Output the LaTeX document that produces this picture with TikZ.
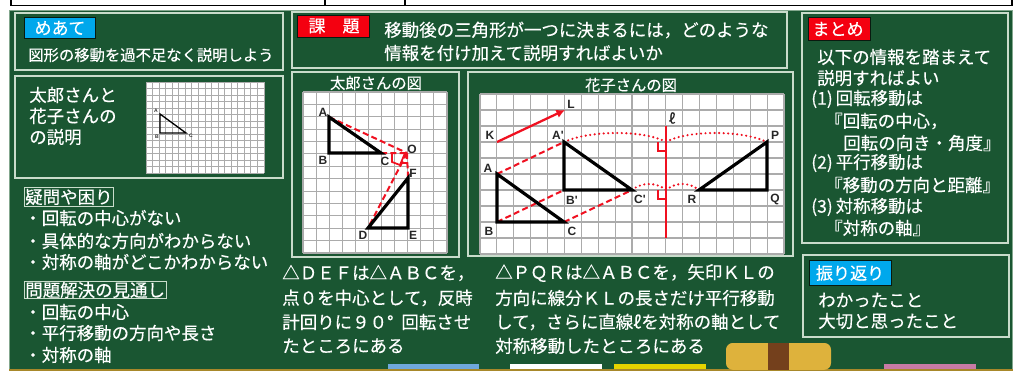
\documentclass[tikz,border=0pt]{standalone}
\usepackage{fontspec}
\usetikzlibrary{arrows.meta}
\setmainfont{Noto Sans CJK JP}[FakeBold=0.35]
\newfontfamily\latinf{Liberation Sans}
\definecolor{board}{HTML}{1A5632}
\definecolor{frameline}{HTML}{C9DCCB}
\definecolor{gridline}{HTML}{ABABAB}
\definecolor{redmark}{HTML}{F01020}
\definecolor{labelblue}{HTML}{00A8EC}
\definecolor{labelred}{HTML}{F40010}
\definecolor{tanline}{HTML}{A8882A}
\definecolor{chalkblue}{HTML}{6FA8DC}
\definecolor{chalkyellow}{HTML}{E6D300}
\definecolor{chalkpink}{HTML}{C77BA5}
\definecolor{eraser}{HTML}{DEB23C}
\definecolor{eraserband}{HTML}{74401C}
\tikzset{
  x=0.75pt,y=-0.75pt,
  panel/.style={draw=frameline,line width=0.9pt},
  tag/.style={line width=0.6pt,draw=black!70!board},
  txt/.style={anchor=west,text=white,inner sep=0pt,font=\fontsize{13.1}{13}\selectfont},
  txts/.style={txt,font=\fontsize{11.5}{12}\selectfont},
  ctr/.style={anchor=center,text=white,inner sep=0pt,font=\fontsize{12.8}{13}\selectfont},
  ttl/.style={anchor=center,text=white,inner sep=0pt,font=\fontsize{11.5}{12}\selectfont},
  tri/.style={draw=black,line width=2.4pt,line join=miter},
  trismall/.style={draw=black,line width=1pt},
  rdash/.style={draw=redmark,line width=1.5pt,dash pattern=on 4.5pt off 2.5pt},
  rdot/.style={draw=redmark,line width=1.8pt,line cap=round,dash pattern=on 0pt off 3.4pt},
  rsolid/.style={draw=redmark,line width=1.3pt},
  pt/.style={anchor=center,inner sep=0pt,text=black!85,font=\latinf\fontsize{9}{9}\selectfont\bfseries},
  ptsmall/.style={anchor=center,inner sep=0pt,text=black!80,font=\latinf\fontsize{3.8}{4}\selectfont\bfseries},
}
\begin{document}
\begin{tikzpicture}
\useasboundingbox (0,0) rectangle (1020,371);
\fill[white] (0,0) rectangle (1020,371);
% header table lines
\draw[black,line width=1.4pt] (11,0) -- (11,5.5) -- (1012,5.5) -- (1012,0);
\draw[black,line width=0.9pt] (325,0) -- (325,5.5) (405,0) -- (405,5.5);
% board
\fill[board] (9,10) rectangle (1013,371);
\draw[frameline!60!board,line width=0.6pt] (9.5,371) -- (9.5,10) -- (1012.5,10) -- (1012.5,371);
\fill[tanline] (9,369.4) rectangle (1013,371);
% panels
\draw[panel] (15,13) rectangle (283,70);
\draw[panel] (15,76) rectangle (283,178);
\draw[panel] (292,12) rectangle (787,68);
\draw[panel] (292,72) rectangle (459,257);
\draw[panel] (468,72) rectangle (793,256);
\draw[panel] (802,13) rectangle (1008,243);
\draw[panel] (803,255) rectangle (1009,337);
% tags
\fill[labelblue,tag] (24,17) rectangle (95,38);
\fill[labelred,tag] (297,15) rectangle (369,37);
\fill[labelred,tag] (808,17) rectangle (870,40);
\fill[labelblue,tag] (809,260) rectangle (891,285);
\node[ctr] (tagMeate) at (60,28) {めあて};
\node[ctr] (tagKadai) at (334,26) {課\hspace{1em}題};
\node[ctr] (tagMatome) at (838,29) {まとめ};
\node[ctr] (tagFuri) at (850,273) {振り返り};
% left column
\node[txts] (t1) at (28,55) {図形の移動を過不足なく説明しよう};
\node[txt] (t2) at (29,95) {太郎さんと};
\node[txt] (t3) at (29,116) {花子さんの};
\node[txt] (t4) at (29,137) {の説明};
% small grid
\fill[white] (146,82) rectangle (264,173);
\draw[gridline,line width=0.6pt]
  \foreach \i in {0,...,18} {(146+\i*6.555,82) -- (146+\i*6.555,173)}
  \foreach \j in {0,...,14} {(146,82+\j*6.5) -- (264,82+\j*6.5)};
\coordinate (sA) at (160,114);
\coordinate (sB) at (160,133);
\coordinate (sC) at (186,133);
\draw[trismall] (sA) -- (sB) -- (sC) -- cycle;
\node[ptsmall] (slA) at (156,111) {A};
\node[ptsmall] (slB) at (157,137) {B};
\node[ptsmall] (slC) at (191,136) {C};
% questions
\draw[frameline,line width=0.7pt] (24,187) rectangle (113,206);
\node[txt] (q0) at (25,197) {疑問や困り};
\node[txt] (q1) at (24,218) {・回転の中心がない};
\node[txt] (q2) at (24,241) {・具体的な方向がわからない};
\node[txt] (q3) at (24,262) {・対称の軸がどこかわからない};
\draw[frameline,line width=0.7pt] (24,281) rectangle (166,298);
\node[txt] (p0) at (25,290) {問題解決の見通し};
\node[txt] (p1) at (24,312) {・回転の中心};
\node[txt] (p2) at (24,333) {・平行移動の方向や長さ};
\node[txt] (p3) at (24,355) {・対称の軸};
% kadai text
\node[txt] (k1) at (384,30) {移動後の三角形が一つに決まるには，どのような};
\node[txt] (k2) at (384,53) {情報を付け加えて説明すればよいか};
% Taro figure
\node[ttl] (taroT) at (376,83) {太郎さんの図};
\fill[white] (303,92) rectangle (447,253);
\draw[gridline,line width=0.8pt]
  \foreach \i in {0,...,11} {(303+\i*13.09,92) -- (303+\i*13.09,253)}
  \foreach \j in {0,...,13} {(303,92+\j*12.385) -- (447,92+\j*12.385)};
\coordinate (tA) at (329,117);
\coordinate (tB) at (329,153);
\coordinate (tC) at (381,153);
\coordinate (tO) at (407,153);
\coordinate (tD) at (368,228);
\coordinate (tE) at (408,228);
\coordinate (tF) at (408,178);
\draw[rdash] (tA) -- (tO) (tC) -- (tO) (tO) -- (tF) (tO) -- (tD);
\draw[rsolid] (392,153) -- (392,162) -- (400,165) -- (405,153);
\draw[rsolid] (400,163) -- (408,163);
\draw[tri] (tA) -- (tB) -- (tC) -- cycle;
\draw[tri] (tD) -- (tE) -- (tF) -- cycle;
\node[pt] (tlA) at (323,112) {A};
\node[pt] (tlB) at (323,160) {B};
\node[pt] (tlC) at (385,161) {C};
\node[pt] (tlO) at (412,149) {O};
\node[pt] (tlF) at (413,173) {F};
\node[pt] (tlD) at (363,235) {D};
\node[pt] (tlE) at (413,235) {E};
% Hanako figure
\node[ttl] (hanaT) at (631,85) {花子さんの図};
\fill[white] (480,94) rectangle (784,254);
\draw[gridline,line width=0.8pt]
  \foreach \i in {0,...,18} {(480+\i*16.89,94) -- (480+\i*16.89,254)}
  \foreach \j in {0,...,10} {(480,94+\j*16) -- (784,94+\j*16)};
\coordinate (hK) at (497,142);
\coordinate (hL) at (565,110);
\coordinate (hA) at (497,174);
\coordinate (hB) at (497,222);
\coordinate (hC) at (564,222);
\coordinate (hA1) at (564,142);
\coordinate (hB1) at (564,190);
\coordinate (hC1) at (632,190);
\coordinate (hP) at (767,142);
\coordinate (hQ) at (767,190);
\coordinate (hR) at (699,190);
\coordinate (hLt) at (666,126);
\coordinate (hLb) at (666,238);
\coordinate (hF1) at (666,142);
\coordinate (hF2) at (666,190);
\draw[rsolid,line width=1.7pt,-{Latex[length=6.5pt,width=6.5pt]}] (hK) -- (hL);
\draw[rdash] (hA) -- (hA1) (hB) -- (hB1) (hC) -- (hC1);
\draw[rdot] (hA1) .. controls (590,130) and (645,130) .. (hF1);
\draw[rdot] (hF1) .. controls (687,130) and (742,130) .. (hP);
\draw[rdot] (hC1) .. controls (642,182) and (656,182) .. (hF2);
\draw[rdot] (hF2) .. controls (676,182) and (689,182) .. (hR);
\draw[rsolid,line width=1.5pt] (hLt) -- (hLb);
\draw[rsolid,line width=1pt] (658,142) -- (658,151) -- (666,151);
\draw[rsolid,line width=1pt] (658,190) -- (658,199) -- (666,199);
\draw[tri] (hA) -- (hB) -- (hC) -- cycle;
\draw[tri] (hA1) -- (hB1) -- (hC1) -- cycle;
\draw[tri] (hP) -- (hQ) -- (hR) -- cycle;
\node[pt] (hlK) at (490,135) {K};
\node[pt] (hlL) at (571,104) {L};
\node[pt] (hlA) at (488,168) {A};
\node[pt] (hlB) at (489,231) {B};
\node[pt] (hlC) at (572,231) {C};
\node[pt] (hlA1) at (558,135) {A'};
\node[pt] (hlB1) at (572,200) {B'};
\node[pt] (hlC1) at (640,199) {C'};
\node[pt] (hlP) at (775,135) {P};
\node[pt] (hlQ) at (775,199) {Q};
\node[pt] (hlR) at (692,199) {R};
\node[pt,font=\fontsize{10.5}{10}\selectfont] (hll) at (672,118) {ℓ};
% explanations
\node[txt] (e1) at (282,273) {△ＤＥＦは△ＡＢＣを，};
\node[txt] (e2) at (282,298) {点０を中心として，反時};
\node[txt] (e3) at (282,322) {計回りに９０°\hspace{0.45em}回転させ};
\node[txt] (e4) at (282,346) {たところにある};
\node[txt] (f1) at (495,273) {△ＰＱＲは△ＡＢＣを，矢印ＫＬの};
\node[txt] (f2) at (495,298) {方向に線分ＫＬの長さだけ平行移動};
\node[txt] (f3) at (495,322) {して，さらに直線ℓを対称の軸として};
\node[txt] (f4) at (495,346) {対称移動したところにある};
% matome
\node[txt] (m1) at (817,57) {以下の情報を踏まえて};
\node[txt] (m2) at (817,78) {説明すればよい};
\node[txt] (m3) at (811,99) {(1)\,回転移動は};
\node[txt] (m4) at (825,121) {『回転の中心，};
\node[txt] (m5) at (843,143) {回転の向き・角度』};
\node[txt] (m6) at (811,163) {(2)\,平行移動は};
\node[txt] (m7) at (825,185) {『移動の方向と距離』};
\node[txt] (m8) at (811,207) {(3)\,対称移動は};
\node[txt] (m9) at (825,228) {『対称の軸』};
% furikaeri
\node[txt] (r1) at (818,300) {わかったこと};
\node[txt] (r2) at (818,321) {大切と思ったこと};
% chalk and eraser
\fill[chalkblue] (388,364) rectangle (479,369.4);
\fill[white] (510,364) rectangle (602,369.4);
\fill[chalkyellow] (614,364) rectangle (706,369.4);
\fill[chalkpink] (884,364) rectangle (976,369.4);
\fill[eraser,rounded corners=5pt] (726,343) rectangle (831,369.8);
\fill[eraserband] (768,343) rectangle (789,369.8);
\end{tikzpicture}
\end{document}
